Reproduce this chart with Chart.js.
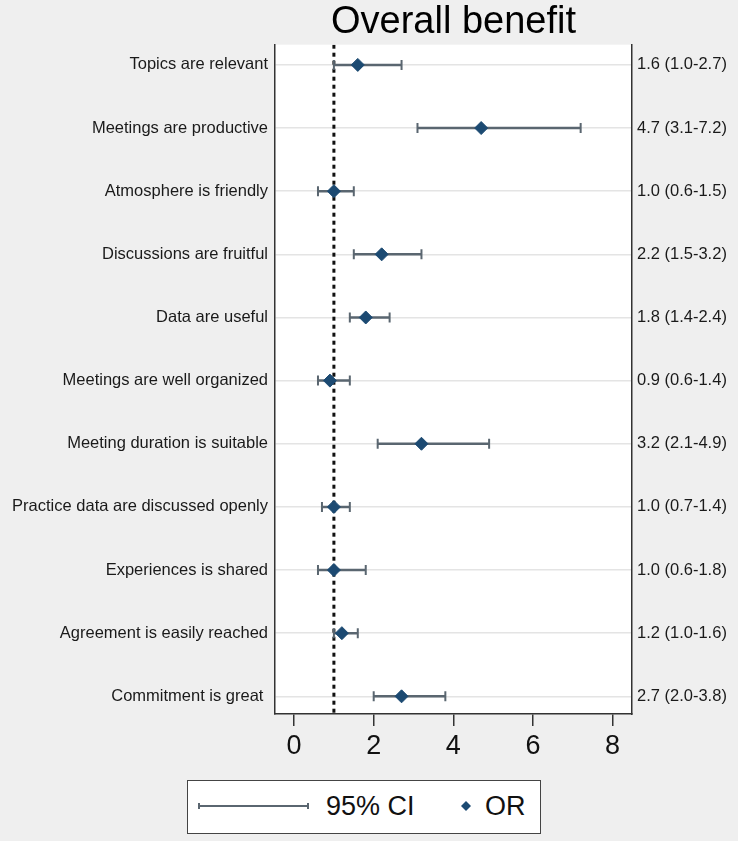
<!DOCTYPE html>
<html>
<head>
<meta charset="utf-8">
<script src="https://cdn.jsdelivr.net/npm/chart.js@4.4.0/dist/chart.umd.min.js"></script>
<style>
  html, body { margin: 0; padding: 0; background: #efefef; }
  #wrap { position: relative; width: 738px; height: 841px; }
  #legend { position: absolute; left: 187px; top: 780px; width: 352px; height: 52px;
    background: #fff; border: 1.5px solid #444; font-family: "Liberation Sans", Arial, sans-serif; font-size: 27px; color: #111; }
  #legend svg { position: absolute; left: 0; top: 0; }
  #legend span { position: absolute; top: 10px; line-height: 30px; }
</style>
</head>
<body>
<div id="wrap">
  <canvas id="c" width="738" height="841"></canvas>
  <div id="legend">
    <svg width="352" height="52">
      <line x1="11" y1="25" x2="120" y2="25" stroke="#5a6670" stroke-width="2"/>
      <line x1="11" y1="22" x2="11" y2="28" stroke="#5a6670" stroke-width="2"/>
      <line x1="120" y1="22" x2="120" y2="28" stroke="#5a6670" stroke-width="2"/>
      <polygon points="278,20 283,25 278,30 273,25" fill="#1c4a72"/>
    </svg>
    <span style="left:138px">95% CI</span>
    <span style="left:297px">OR</span>
  </div>
</div>
<script>
const categories = [
  "Topics are relevant",
  "Meetings are productive",
  "Atmosphere is friendly",
  "Discussions are fruitful",
  "Data are useful",
  "Meetings are well organized",
  "Meeting duration is suitable",
  "Practice data are discussed openly",
  "Experiences is shared",
  "Agreement is easily reached",
  "Commitment is great "
];
const orValues = [1.6, 4.7, 1.0, 2.2, 1.8, 0.9, 3.2, 1.0, 1.0, 1.2, 2.7];
const ciLow    = [1.0, 3.1, 0.6, 1.5, 1.4, 0.6, 2.1, 0.7, 0.6, 1.0, 2.0];
const ciHigh   = [2.7, 7.2, 1.5, 3.2, 2.4, 1.4, 4.9, 1.4, 1.8, 1.6, 3.8];
const rightLabels = [
  "1.6 (1.0-2.7)", "4.7 (3.1-7.2)", "1.0 (0.6-1.5)", "2.2 (1.5-3.2)", "1.8 (1.4-2.4)",
  "0.9 (0.6-1.4)", "3.2 (2.1-4.9)", "1.0 (0.7-1.4)", "1.0 (0.6-1.8)", "1.2 (1.0-1.6)", "2.7 (2.0-3.8)"
];
const xTicks = [0, 2, 4, 6, 8];
const refValue = 1;

const Y_MIN = -0.32, Y_MAX = 10.28;
const FONT = '"Liberation Sans", Arial, sans-serif';

const ciData = [];
categories.forEach((_, i) => {
  ciData.push({x: ciLow[i], y: i});
  ciData.push({x: ciHigh[i], y: i});
  ciData.push({x: null, y: null});
});
const orData = orValues.map((v, i) => ({x: v, y: i}));
const refData = [{x: refValue, y: Y_MIN}, {x: refValue, y: Y_MAX}];

const plotBg = {
  id: 'plotBg',
  beforeDraw(chart) {
    const a = chart.chartArea, ctx = chart.ctx;
    ctx.save();
    ctx.fillStyle = '#ffffff';
    ctx.fillRect(a.left, a.top, a.right - a.left, a.bottom - a.top);
    ctx.restore();
  }
};

new Chart(document.getElementById('c'), {
  type: 'scatter',
  plugins: [plotBg],
  data: {
    datasets: [
      { type: 'line', label: 'ref', data: refData, borderColor: '#111', borderWidth: 3,
        borderDash: [4, 4], pointRadius: 0, order: 3 },
      { type: 'line', label: '95% CI', data: ciData, borderColor: '#5a6670', borderWidth: 2.5,
        spanGaps: false, pointStyle: 'line', rotation: 90, pointRadius: 5,
        pointBorderColor: '#5a6670', pointBorderWidth: 2, order: 2 },
      { type: 'scatter', label: 'OR', data: orData, pointStyle: 'rectRot', pointRadius: 6.5,
        backgroundColor: '#1c4a72', borderColor: '#1c4a72', order: 1 }
    ]
  },
  options: {
    responsive: false,
    animation: false,
    events: [],
    layout: { padding: { top: 0, bottom: 0, left: 0, right: 0 } },
    plugins: {
      legend: { display: false },
      tooltip: { enabled: false },
      title: { display: true, text: 'Overall benefit', fullSize: false, color: '#000',
        font: { family: FONT, size: 38, weight: 'normal', lineHeight: 1.15 },
        padding: { top: 1, bottom: 0 } }
    },
    scales: {
      x: {
        type: 'linear', position: 'bottom', min: -0.48, max: 8.49,
        afterBuildTicks: s => { s.ticks = xTicks.map(v => ({value: v})); },
        afterFit: s => { s.height = 127; },
        grid: { drawOnChartArea: false, drawTicks: true, tickLength: 12, color: '#333', lineWidth: 1.5 },
        border: { display: true, color: '#333', width: 1.5 },
        ticks: { color: '#111', font: { family: FONT, size: 27 }, padding: 4, maxRotation: 0 }
      },
      y: {
        type: 'linear', position: 'left', reverse: true, min: Y_MIN, max: Y_MAX,
        afterBuildTicks: s => { s.ticks = categories.map((_, i) => ({value: i})); },
        afterFit: s => { s.width = 275; },
        grid: { drawTicks: false, color: '#e4e4e4', lineWidth: 1.5 },
        border: { display: true, color: '#333', width: 1.5 },
        ticks: { autoSkip: false, color: '#1a1a1a', font: { family: FONT, size: 16.5 }, padding: 7,
          callback: v => categories[v] }
      },
      y2: {
        type: 'linear', position: 'right', reverse: true, min: Y_MIN, max: Y_MAX,
        afterBuildTicks: s => { s.ticks = rightLabels.map((_, i) => ({value: i})); },
        afterFit: s => { s.width = 106; },
        grid: { display: false, drawTicks: false },
        border: { display: true, color: '#333', width: 1.5 },
        ticks: { autoSkip: false, color: '#1a1a1a', font: { family: FONT, size: 16.5 }, padding: 5,
          callback: v => rightLabels[v] }
      }
    }
  }
});
</script>
</body>
</html>
